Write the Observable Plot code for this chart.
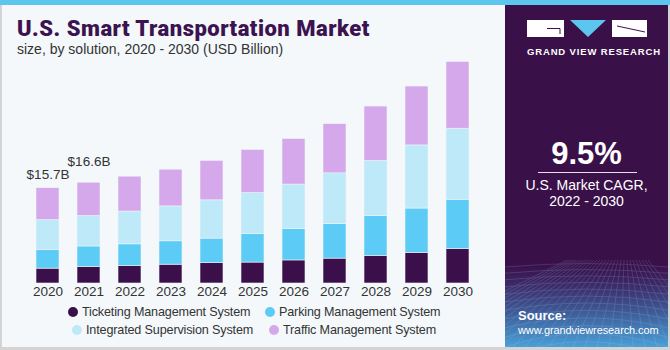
<!DOCTYPE html>
<html>
<head>
<meta charset="utf-8">
<script src="https://cdn.jsdelivr.net/npm/d3@7"></script>
<script src="https://cdn.jsdelivr.net/npm/@observablehq/plot@0.6"></script>
<style>
  html, body { margin: 0; padding: 0; }
  body { width: 670px; height: 350px; overflow: hidden; background: #fff; font-family: "Liberation Sans", Arial, sans-serif; }
  #frame { position: relative; width: 670px; height: 350px; background: #f4f8fb; }
  #topbar { position: absolute; left: 0; top: 0; width: 670px; height: 5px; background: #5cc6ef; }
  #lborder { position: absolute; left: 0; top: 5px; width: 2px; height: 345px; background: #d4d4d4; }
  #bborder { position: absolute; left: 0; top: 347px; width: 670px; height: 3px; background: #d4d4d4; }
  #rborder { position: absolute; left: 668px; top: 5px; width: 2px; height: 345px; background: #d4d4d4; }
  #title { position: absolute; left: 17px; top: 16px; font-family: Roboto, sans-serif; font-weight: 900; font-size: 22px; color: #3b1350; letter-spacing: 0.5px; white-space: nowrap; }
  #subtitle { position: absolute; left: 17px; top: 41px; font-size: 14px; color: #333; white-space: nowrap; }
  #chart { position: absolute; left: 0; top: 60px; }
  .leg { position: absolute; font-size: 12.6px; letter-spacing: -0.15px; color: #333; white-space: nowrap; line-height: 16px; }
  .dot { position: absolute; width: 10px; height: 10px; border-radius: 50%; }
  #panel { position: absolute; left: 505px; top: 5px; width: 163px; height: 342px;
           background: linear-gradient(to bottom, #3a1049 0%, #3a1049 76%, #3d2a68 82%, #3f5c98 90%, #4a9fd6 100%); overflow: hidden; }
  #panel .t { position: absolute; color: #fff; white-space: nowrap; }
  .lr { position: absolute; background: #ffffff; z-index: 2; }
</style>
</head>
<body>
<div id="frame">
  <div id="topbar"></div>
  <div id="lborder"></div>
  <div id="title">U.S. Smart Transportation Market</div>
  <div id="subtitle">size, by solution, 2020 - 2030 (USD Billion)</div>
  <div id="chart"></div>
  <div id="legend"></div>
  <div id="panel">
    <svg width="163" height="342" style="position:absolute;left:0;top:0">
      <g opacity="0.25" stroke="#9fd4f5" stroke-width="0.7" fill="none" id="grid"></g>
    </svg>
    <div class="lr" style="left:22px;top:15px;width:37px;height:17px;"></div>
    <div class="lr" style="left:107px;top:15px;width:35px;height:17px;"></div>
    <svg width="163" height="60" style="position:absolute;left:0;top:0;z-index:3">
      <path d="M65 15 H101 L83 32 Z" fill="#5cc6ef"/>
      <path d="M42 23.5 H55 V29" stroke="#3a1049" stroke-width="1" fill="none"/>
      <path d="M112 21 L140 27" stroke="#3a1049" stroke-width="1"/>
    </svg>
    <div class="t" style="left:22px;top:41px;font-size:9.5px;font-weight:bold;letter-spacing:0.85px;">GRAND VIEW RESEARCH</div>
    <div class="t" style="left:0;width:163px;text-align:center;top:131px;font-size:31px;font-weight:bold;">9.5%</div>
    <div style="position:absolute;left:33px;top:167px;width:99px;height:1px;background:#e8e0ee"></div>
    <div class="t" style="left:0;width:163px;text-align:center;top:172px;font-size:14px;line-height:16px;">U.S. Market CAGR,<br>2022 - 2030</div>
    <div class="t" style="left:13px;top:303px;font-size:13px;font-weight:bold;line-height:15px;">Source:</div>
    <div class="t" style="left:13px;top:318px;font-size:11px;letter-spacing:-0.1px;line-height:15px;">www.grandviewresearch.com</div>
  </div>
  <div id="rborder"></div>
  <div id="bborder"></div>
</div>
<script>
const years = [2020, 2021, 2022, 2023, 2024, 2025, 2026, 2027, 2028, 2029, 2030];
const seriesNames = ["Ticketing Management System", "Parking Management System", "Integrated Supervision System", "Traffic Management System"];
const seriesColors = ["#3b0f4a", "#5ccbf6", "#bee9f9", "#d5a8ec"];
const ticketing  = [2.45, 2.7, 2.85, 3.1, 3.35, 3.45, 3.8, 4.1, 4.55, 5.05, 5.7];
const parking    = [3.1, 3.4, 3.6, 3.85, 4.05, 4.7, 5.2, 5.7, 6.6, 7.3, 8.1];
const integrated = [4.9, 5.0, 5.4, 5.75, 6.3, 6.75, 7.3, 8.35, 9.05, 10.4, 11.7];
const traffic    = [5.25, 5.5, 5.75, 6.05, 6.5, 7.1, 7.5, 8.1, 8.95, 9.7, 11.0];
const labelYears = [2020, 2021];
const labelTexts = ["$15.7B", "$16.6B"];

const seriesValues = [ticketing, parking, integrated, traffic];
const rows = [];
years.forEach((yr, i) => {
  seriesNames.forEach((s, j) => rows.push({year: String(yr), series: s, value: seriesValues[j][i]}));
});
const totals = years.map((yr, i) => seriesValues.reduce((a, arr) => a + arr[i], 0));
const labels = labelYears.map((yr, k) => ({year: String(yr), total: totals[years.indexOf(yr)], text: labelTexts[k]}));

const chart = Plot.plot({
  width: 505,
  height: 250,
  marginTop: 0,
  marginBottom: 27,
  marginLeft: 13,
  marginRight: 12,
  style: {background: "transparent", fontFamily: "Liberation Sans, Arial, sans-serif", fontSize: "13.5px", color: "#333"},
  x: {type: "band", domain: years.map(String), padding: 0.43, label: null, tickSize: 0, tickPadding: 3},
  y: {domain: [0, 223 / 6.07], axis: null},
  color: {domain: seriesNames, range: seriesColors},
  marks: [
    Plot.barY(rows, Plot.stackY({order: seriesNames}, {x: "year", y: "value", fill: "series", stroke: "#eef3f7", strokeWidth: 0.6, inset: 0})),
    Plot.text(labels.filter((d, i) => i === 0), {x: "year", y: "total", text: "text", dy: -14, fill: "#333", fontSize: 13.5}),
    Plot.text(labels.filter((d, i) => i === 1), {x: "year", y: "total", text: "text", dy: -21, fill: "#333", fontSize: 13.5})
  ]
});
chart.style.overflow = "visible";
document.getElementById("chart").appendChild(chart);
d3.select(chart).selectAll("g[aria-label='x-axis tick label'] text").attr("fill", "#333");

// legend
const legendPos = [[73, 312], [270, 312], [77, 330], [274, 330]];
const legend = document.getElementById("legend");
seriesNames.forEach((s, j) => {
  const [cx, cy] = legendPos[j];
  const dot = document.createElement("div");
  dot.className = "dot";
  dot.style.left = (cx - 5) + "px";
  dot.style.top = (cy - 5) + "px";
  dot.style.background = seriesColors[j];
  legend.appendChild(dot);
  const t = document.createElement("div");
  t.className = "leg";
  t.textContent = s;
  t.style.left = (cx + 9) + "px";
  t.style.top = (cy - 8) + "px";
  legend.appendChild(t);
});

// decorative grid in panel
const g = d3.select("#grid");
for (let k = 0; k < 14; k++) {
  g.append("path").attr("d", `M0 ${262 + k * 6 + k * k * 0.2} Q80 ${255 + k * 6} 163 ${262 + k * 6 + k * k * 0.2}`);
}
for (let k = -6; k < 22; k++) {
  g.append("line").attr("x1", 80 + k * 3).attr("y1", 255).attr("x2", k * 12 - 40).attr("y2", 342);
}
</script>
</body>
</html>
